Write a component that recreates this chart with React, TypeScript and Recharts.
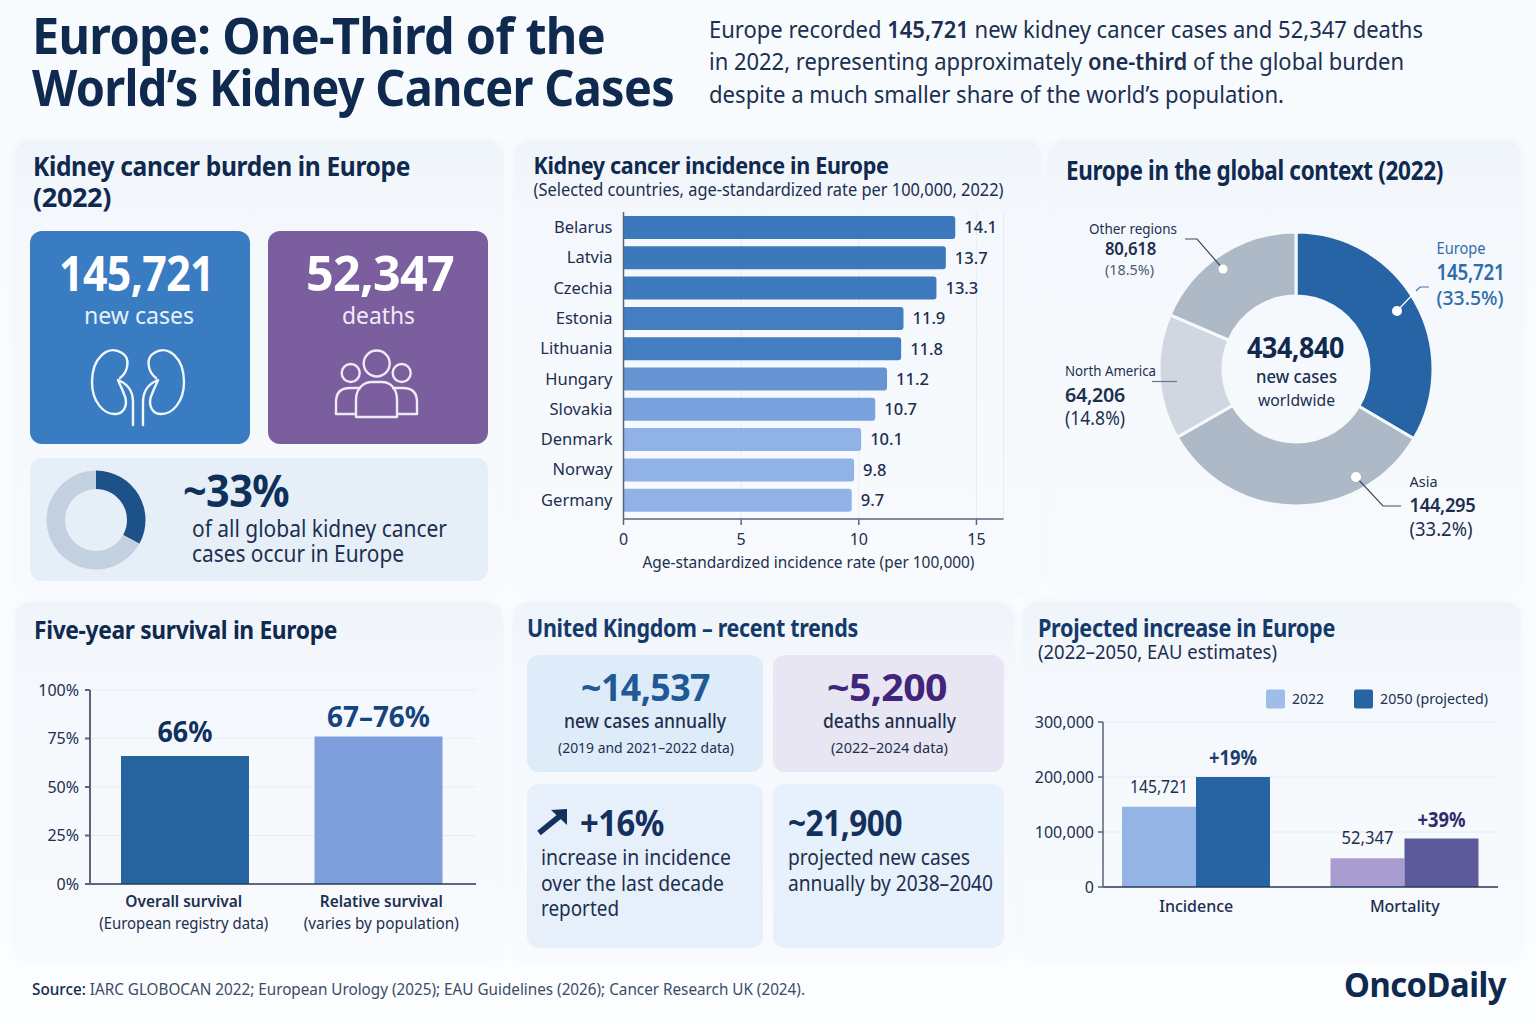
import React from 'react';
import { BarChart, Bar, XAxis, YAxis, CartesianGrid, PieChart, Pie, Cell, LabelList } from 'recharts';

const FONT = '"Noto Sans", sans-serif';
const INK = '#1C2F50';
const NAVY = '#10294F';
const TITLE = '#143A6B';

// incidence by country
const countries = ['Belarus', 'Latvia', 'Czechia', 'Estonia', 'Lithuania', 'Hungary', 'Slovakia', 'Denmark', 'Norway', 'Germany'];
const rates = [14.1, 13.7, 13.3, 11.9, 11.8, 11.2, 10.7, 10.1, 9.8, 9.7];
const rateColors = ['#3B78BC', '#3B78BC', '#3E7ABE', '#437EC2', '#437EC2', '#6694D2', '#7AA2DE', '#90B2E6', '#90B2E6', '#90B2E6'];
const rateTicks = [0, 5, 10, 15];

// global context donut
const regions = ['Europe', 'Asia', 'North America', 'Other regions'];
const regionCases = [145721, 144295, 64206, 80618];
const regionColors = ['#2664A6', '#ADB9C6', '#D1D7E0', '#ADB9C6'];

// small ~33% donut
const shareValues = [33, 67];
const shareColors = ['#1D5289', '#C3D0DF'];

// survival
const survivalNames = ['Overall survival', 'Relative survival'];
const survivalNotes = ['(European registry data)', '(varies by population)'];
const survivalValues = [66, 76];
const survivalLabels = ['66%', '67–76%'];
const survivalColors = ['#26649F', '#7E9EDC'];
const survivalLabelColors = ['#10305C', '#16457E'];
const survivalTicks = [0, 25, 50, 75, 100];

// projection
const projectionNames = ['Incidence', 'Mortality'];
const values2022 = [145721, 52347];
const values2050 = [200000, 88000];
const labels2022 = ['145,721', '52,347'];
const labels2050 = ['+19%', '+39%'];
const colors2022 = ['#93B4E5', '#A99CD0'];
const colors2050 = ['#2664A4', '#5D5A9B'];
const labelColors2050 = ['#1C3D6E', '#2F2A6B'];
const projectionTicks = [0, 100000, 200000, 300000];

const rateData = countries.map((name, i) => ({ name, rate: rates[i] }));
const regionData = regions.map((name, i) => ({ name, value: regionCases[i] }));
const shareData = shareValues.map((value, i) => ({ name: String(i), value }));
const survivalData = survivalNames.map((name, i) => ({ name, value: survivalValues[i], label: survivalLabels[i] }));
const projectionData = projectionNames.map((name, i) => ({
  name, y2022: values2022[i], y2050: values2050[i], l2022: labels2022[i], l2050: labels2050[i],
}));

const cardBg = 'linear-gradient(180deg, #EFF4FA 0px, #F4F8FC 64px, #F8FAFD 100%)';

const box = (left: number, top: number, right: number, bottom: number, background: string, borderRadius = 12): React.CSSProperties => ({
  position: 'absolute', left, top, width: right - left, height: bottom - top, background, borderRadius,
});

const card = (left: number, top: number, right: number, bottom: number): React.CSSProperties => ({
  ...box(left, top, right, bottom, cardBg, 16), boxShadow: '0 0 8px rgba(180,200,225,.14)',
});

// text squeezed to the width it has in the reference, bold runs tracked a little tight
function Tx({ x, y, w, size, weight = 400, fill = INK, children }: any) {
  return (
    <text x={x} y={y} fontSize={size} fontWeight={weight} fill={fill} letterSpacing={weight >= 600 ? size * -0.015 : 0} textLength={w} lengthAdjust="spacingAndGlyphs">
      {children}
    </text>
  );
}

function SurvivalTick({ x, y, payload, index }: any) {
  const cx = x + (index ? 3 : -1);
  return (
    <g>
      <text x={cx} y={y + 15} textAnchor="middle" fontSize={16} fontWeight={600} fill={INK} textLength={index ? 123 : 117} lengthAdjust="spacingAndGlyphs">{payload.value}</text>
      <text x={cx} y={y + 37} textAnchor="middle" fontSize={16} fill={INK} textLength={index ? 155 : 169} lengthAdjust="spacingAndGlyphs">{survivalNotes[index]}</text>
    </g>
  );
}

function SurvivalLabel({ x, y, width, value, index }: any) {
  return <text x={x + width / 2} y={y - (index ? 10 : 14)} textAnchor="middle" fontSize={29} fontWeight={700} fill={survivalLabelColors[index]} textLength={index ? 103 : 55} lengthAdjust="spacingAndGlyphs">{value}</text>;
}

function Label2022({ x, y, width, value }: any) {
  return <text x={x + width / 2} y={y - 14} textAnchor="middle" fontSize={18} fill={INK} textLength={value.length > 6 ? 58 : 52} lengthAdjust="spacingAndGlyphs">{value}</text>;
}

function Label2050({ x, y, width, value, index }: any) {
  return <text x={x + width / 2} y={y - 12} textAnchor="middle" fontSize={22} fontWeight={700} fill={labelColors2050[index]} textLength={48} lengthAdjust="spacingAndGlyphs">{value}</text>;
}

const tickStyle = { fontSize: 16, fill: INK, fontFamily: FONT };

export default function App() {
  return (
    <div style={{ position: 'absolute', left: 0, top: 0, width: 1536, height: 1024, overflow: 'hidden', fontFamily: FONT, background: 'linear-gradient(180deg, #F8FBFE, #FBFDFF)' }}>
      {/* cards */}
      <div style={card(15, 140, 503, 590)} />
      <div style={card(515, 140, 1041, 590)} />
      <div style={card(1049, 140, 1521, 590)} />
      <div style={card(15, 602, 503, 958)} />
      <div style={card(513, 602, 1014, 958)} />
      <div style={card(1022, 602, 1521, 958)} />

      {/* tiles */}
      <div style={box(30, 231, 250, 444, '#3A7CC1')} />
      <div style={box(268, 231, 488, 444, '#7A5E9E')} />
      <div style={box(30, 458, 488, 581, '#E6EFF8')} />
      <div style={box(527, 655, 763, 772, '#DEECF9')} />
      <div style={box(773, 655, 1004, 772, '#E9E6F3')} />
      <div style={box(527, 784, 763, 948, '#E7F0FA')} />
      <div style={box(773, 784, 1004, 948, '#E6F1FB')} />

      {/* ~33% donut */}
      <div style={{ position: 'absolute', left: 41, top: 465 }}>
        <PieChart width={110} height={110} margin={{ top: 0, right: 0, bottom: 0, left: 0 }}>
          <Pie data={shareData} dataKey="value" cx={55} cy={55} innerRadius={31} outerRadius={49.5} startAngle={90} endAngle={-270} stroke="none" isAnimationActive={false}>
            {shareData.map((e, i) => <Cell key={i} fill={shareColors[i]} />)}
          </Pie>
        </PieChart>
      </div>

      {/* incidence bars */}
      <div style={{ position: 'absolute', left: 515, top: 205 }}>
        <BarChart width={520} height={375} data={rateData} layout="vertical" margin={{ top: 7, right: 31.5, bottom: 0, left: 0 }}>
          <CartesianGrid stroke="#E8EDF4" horizontal={false} />
          <XAxis type="number" domain={[0, 16.15]} ticks={rateTicks} stroke="#59657A" strokeWidth={1.5} tick={tickStyle} tickSize={6} tickMargin={9} height={61} allowDataOverflow />
          <YAxis type="category" dataKey="name" width={108.5} stroke="#59657A" strokeWidth={1.5} tick={{ ...tickStyle, fontSize: 16.5 }} tickSize={0} tickMargin={11} padding={{ top: 0, bottom: 4 }} interval={0} />
          <Bar dataKey="rate" barSize={23} radius={[0, 3, 3, 0]} isAnimationActive={false}>
            {rateData.map((e, i) => <Cell key={i} fill={rateColors[i]} />)}
            <LabelList dataKey="rate" position="right" offset={9} formatter={(v: any) => Number(v).toFixed(1)} style={{ fontSize: 16.5, fontWeight: 500, fill: INK, fontFamily: FONT }} />
          </Bar>
        </BarChart>
      </div>

      {/* global context donut */}
      <div style={{ position: 'absolute', left: 1146, top: 219 }}>
        <PieChart width={300} height={300} margin={{ top: 0, right: 0, bottom: 0, left: 0 }}>
          <Pie data={regionData} dataKey="value" cx={150} cy={150} innerRadius={73} outerRadius={137} startAngle={90} endAngle={-270} stroke="#F6F9FC" strokeWidth={3} isAnimationActive={false}>
            {regionData.map((e, i) => <Cell key={i} fill={regionColors[i]} />)}
          </Pie>
        </PieChart>
      </div>

      {/* survival */}
      <div style={{ position: 'absolute', left: 15, top: 670 }}>
        <BarChart width={480} height={285} data={survivalData} margin={{ top: 20, right: 19, bottom: 0, left: 0 }}>
          <CartesianGrid stroke="#E8EDF4" vertical={false} />
          <XAxis dataKey="name" stroke="#2A3A5A" strokeWidth={1.5} tickLine={false} tick={<SurvivalTick />} height={71} interval={0} padding={{ left: -2, right: 1 }} />
          <YAxis domain={[0, 100]} ticks={survivalTicks} width={75} stroke="#59657A" strokeWidth={2} tick={tickStyle} tickSize={5} tickMargin={6} tickFormatter={(v: number) => `${v}%`} />
          <Bar dataKey="value" barSize={128} isAnimationActive={false}>
            {survivalData.map((e, i) => <Cell key={i} fill={survivalColors[i]} />)}
            <LabelList dataKey="label" content={<SurvivalLabel />} />
          </Bar>
        </BarChart>
      </div>

      {/* projection */}
      <div style={{ position: 'absolute', left: 1022, top: 710 }}>
        <BarChart width={495} height={240} data={projectionData} barGap={0} margin={{ top: 12, right: 19, bottom: 0, left: 0 }}>
          <CartesianGrid stroke="#E8EDF4" vertical={false} />
          <XAxis dataKey="name" stroke="#2A3A5A" strokeWidth={1.5} tickLine={false} tick={{ ...tickStyle, fontWeight: 500 }} tickMargin={8} height={63} interval={0} padding={{ left: -11, right: -11 }} />
          <YAxis domain={[0, 300000]} ticks={projectionTicks} width={81} stroke="#59657A" strokeWidth={1.5} tick={tickStyle} tickSize={5} tickMargin={4} tickFormatter={(v: number) => v.toLocaleString('en-US')} />
          <Bar dataKey="y2022" barSize={74} isAnimationActive={false}>
            {projectionData.map((e, i) => <Cell key={i} fill={colors2022[i]} />)}
            <LabelList dataKey="l2022" content={<Label2022 />} />
          </Bar>
          <Bar dataKey="y2050" barSize={74} isAnimationActive={false}>
            {projectionData.map((e, i) => <Cell key={i} fill={colors2050[i]} />)}
            <LabelList dataKey="l2050" content={<Label2050 />} />
          </Bar>
        </BarChart>
      </div>

      {/* text, icons and leader lines on top */}
      <svg width={1536} height={1024} style={{ position: 'absolute', left: 0, top: 0, pointerEvents: 'none', fontFamily: FONT }}>
        <Tx x={32} y={54} w={573} size={50} weight={700} fill={NAVY}>Europe: One-Third of the</Tx>
        <Tx x={32} y={106} w={642} size={50} weight={700} fill={NAVY}>World’s Kidney Cancer Cases</Tx>

        <Tx x={709} y={38} w={714} size={23.5}>Europe recorded <tspan fontWeight={600}>145,721</tspan> new kidney cancer cases and 52,347 deaths</Tx>
        <Tx x={709} y={70} w={695} size={23.5}>in 2022, representing approximately <tspan fontWeight={600}>one-third</tspan> of the global burden</Tx>
        <Tx x={709} y={103} w={575} size={23.5}>despite a much smaller share of the world’s population.</Tx>

        <Tx x={33} y={176} w={377} size={26} weight={700} fill={NAVY}>Kidney cancer burden in Europe</Tx>
        <Tx x={33} y={207} w={78} size={26} weight={700} fill={NAVY}>(2022)</Tx>
        <Tx x={59} y={291} w={155} size={48} weight={700} fill="#FFFFFF">145,721</Tx>
        <Tx x={84} y={324} w={110} size={24} fill="#E8F1FA">new cases</Tx>
        <Tx x={306} y={291} w={148} size={48} weight={700} fill="#FFFFFF">52,347</Tx>
        <Tx x={342} y={324} w={73} size={24} fill="#EFEAF6">deaths</Tx>

        {/* kidneys */}
        <g fill="none" stroke="#F2F7FC" strokeWidth={2.4} strokeLinecap="round" strokeLinejoin="round">
          <path d="M120 378 C128 372 131 358 122 353 C108 344 92 358 92 382 C92 402 104 415 116 414 C126 413 128 402 124 394 C122 388 119 383 118 380 C128 384 133 392 133 402 L133 425" />
          <path d="M156 378 C148 372 145 358 154 353 C168 344 184 358 184 382 C184 402 172 415 160 414 C150 413 148 402 152 394 C154 388 157 383 158 380 C148 384 143 392 143 402 L143 425" />
        </g>
        {/* people */}
        <g fill="none" stroke="#EFEAF6" strokeWidth={2.4} strokeLinejoin="round">
          <circle cx={376.7} cy={363.5} r={13} />
          <circle cx={350.7} cy={373} r={9} />
          <circle cx={401.7} cy={373} r={9} />
          <path d="M356 417 V400 C356 388 364 382 372 382 H382 C390 382 397 388 397 400 V417 Z" />
          <path d="M356 414 H336 V402 C336 392 342 388 350 388 H361" />
          <path d="M397 414 H417 V402 C417 392 411 388 403 388 H392" />
        </g>

        <Tx x={183} y={507} w={106} size={44} weight={700} fill="#10305C">~33%</Tx>
        <Tx x={192} y={537} w={255} size={24}>of all global kidney cancer</Tx>
        <Tx x={192} y={562} w={212} size={24}>cases occur in Europe</Tx>

        <Tx x={533.5} y={174} w={355} size={24} weight={700} fill={NAVY}>Kidney cancer incidence in Europe</Tx>
        <Tx x={533.5} y={196} w={470} size={18}>(Selected countries, age-standardized rate per 100,000, 2022)</Tx>
        <Tx x={642.5} y={568} w={332} size={16}>Age-standardized incidence rate (per 100,000)</Tx>

        <Tx x={1066} y={180} w={377} size={26} weight={700} fill={NAVY}>Europe in the global context (2022)</Tx>
        <Tx x={1247} y={358} w={97} size={28} weight={700} fill={NAVY}>434,840</Tx>
        <Tx x={1256} y={383} w={81} size={18} weight={500}>new cases</Tx>
        <Tx x={1258} y={406} w={77} size={17}>worldwide</Tx>

        <Tx x={1089} y={234} w={88} size={15}>Other regions</Tx>
        <Tx x={1105} y={255} w={51} size={18} weight={600}>80,618</Tx>
        <Tx x={1105} y={275} w={49} size={15} fill="#4B5B73">(18.5%)</Tx>
        <Tx x={1436.5} y={254} w={49} size={16} fill="#2F6DA8">Europe</Tx>
        <Tx x={1436.5} y={280} w={68} size={21} weight={600} fill="#2F6DA8">145,721</Tx>
        <Tx x={1436.5} y={305} w={67} size={20} weight={500} fill="#2F6DA8">(33.5%)</Tx>
        <Tx x={1065} y={376} w={91} size={15}>North America</Tx>
        <Tx x={1065} y={402} w={60} size={20} weight={600}>64,206</Tx>
        <Tx x={1065} y={425} w={60} size={19}>(14.8%)</Tx>
        <Tx x={1409.5} y={487} w={28} size={15}>Asia</Tx>
        <Tx x={1409.5} y={512} w={66} size={20} weight={600}>144,295</Tx>
        <Tx x={1409.5} y={536} w={63} size={19}>(33.2%)</Tx>

        <g fill="none" strokeWidth={1.2}>
          <polyline points="1185,239 1197,239 1223,269" stroke="#3F4C60" />
          <line x1={1397} y1={311} x2={1416} y2={291} stroke="#FFFFFF" />
          <polyline points="1416,291 1420,287 1429,287" stroke="#3B78B5" />
          <line x1={1152} y1={381.5} x2={1177} y2={381.5} stroke="#6A7688" />
          <polyline points="1356,477 1383,506 1401,506" stroke="#3F4C60" />
        </g>
        <circle cx={1223} cy={269} r={4.5} fill="#FFFFFF" />
        <circle cx={1397} cy={311} r={5} fill="#FFFFFF" />
        <circle cx={1356} cy={477} r={5} fill="#FFFFFF" />

        <Tx x={34} y={639} w={303} size={25} weight={700} fill={NAVY}>Five-year survival in Europe</Tx>

        <Tx x={527} y={637} w={331} size={25} weight={700} fill={TITLE}>United Kingdom – recent trends</Tx>
        <Tx x={581} y={701} w={129} size={38} weight={700} fill="#1F5A96">~14,537</Tx>
        <Tx x={564} y={728} w={162} size={19} weight={500}>new cases annually</Tx>
        <Tx x={558} y={753} w={176} size={14.5}>(2019 and 2021–2022 data)</Tx>
        <Tx x={827} y={701} w={120} size={38} weight={700} fill="#41257A">~5,200</Tx>
        <Tx x={823} y={728} w={133} size={19} weight={500}>deaths annually</Tx>
        <Tx x={831} y={753} w={117} size={14.5}>(2022–2024 data)</Tx>

        {/* arrow */}
        <line x1={539} y1={833} x2={560} y2={816} stroke="#14305C" strokeWidth={5.5} />
        <polygon points="567,809 567,825 551,810" fill="#14305C" />
        <Tx x={580} y={836} w={84} size={35} weight={700} fill="#14305C">+16%</Tx>
        <Tx x={541} y={865} w={190} size={21}>increase in incidence</Tx>
        <Tx x={541} y={891} w={183} size={21}>over the last decade</Tx>
        <Tx x={541} y={916} w={78} size={21}>reported</Tx>
        <Tx x={788} y={836} w={114} size={35} weight={700} fill="#14305C">~21,900</Tx>
        <Tx x={788} y={865} w={182} size={21}>projected new cases</Tx>
        <Tx x={788} y={891} w={205} size={21}>annually by 2038–2040</Tx>

        <Tx x={1038} y={637} w={297} size={25} weight={700} fill={TITLE}>Projected increase in Europe</Tx>
        <Tx x={1038} y={659} w={239} size={19}>(2022–2050, EAU estimates)</Tx>
        <rect x={1266} y={689.5} width={19} height={19} rx={2} fill="#9FBDE9" />
        <Tx x={1292} y={704} w={32} size={15}>2022</Tx>
        <rect x={1354} y={689.5} width={19} height={19} rx={2} fill="#2664A4" />
        <Tx x={1380} y={704} w={108} size={15}>2050 (projected)</Tx>

        <Tx x={32} y={995} w={773} size={15.5} fill="#3C4C66"><tspan fill={NAVY} fontWeight={500}>Source:</tspan> IARC GLOBOCAN 2022; European Urology (2025); EAU Guidelines (2026); Cancer Research UK (2024).</Tx>
        <Tx x={1344} y={997} w={162} size={34} weight={700} fill={NAVY}>OncoDaily</Tx>
      </svg>
    </div>
  );
}
